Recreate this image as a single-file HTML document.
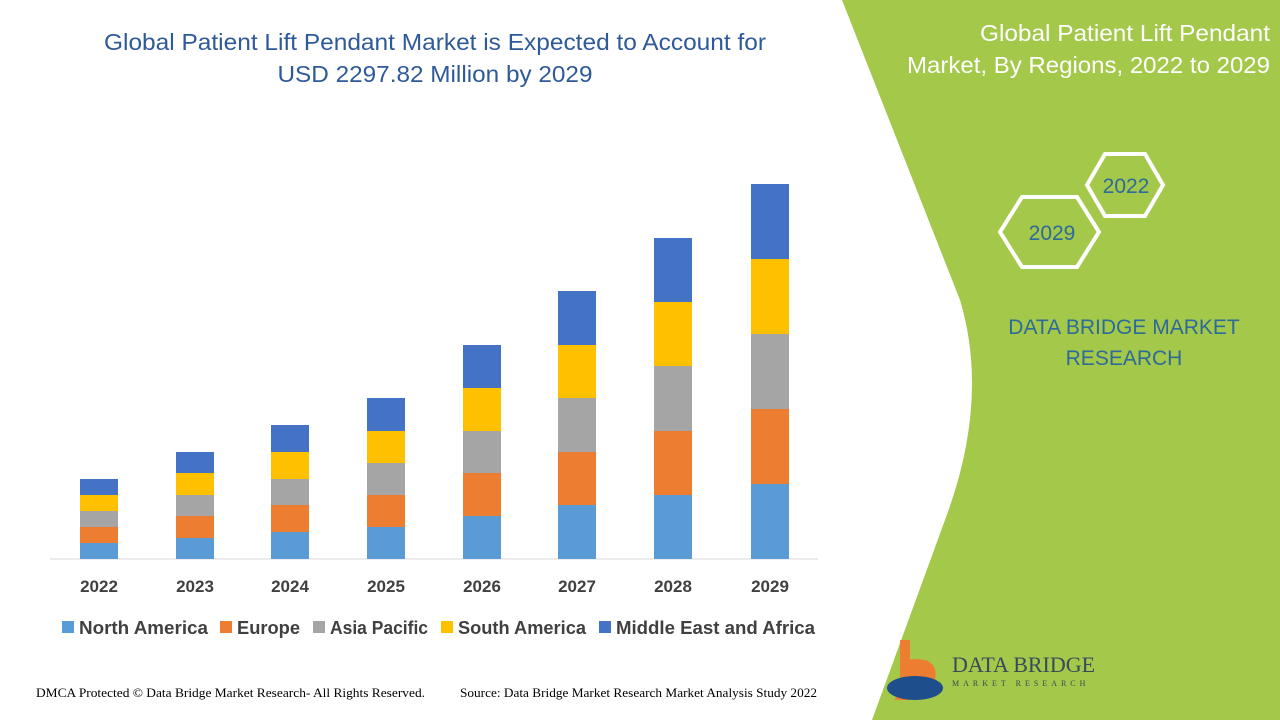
<!DOCTYPE html>
<html><head><meta charset="utf-8"><style>
body{margin:0;width:1280px;height:720px;overflow:hidden;background:#fff;font-family:"Liberation Sans",sans-serif;}
</style></head><body>
<svg width="1280" height="720" viewBox="0 0 1280 720" xmlns="http://www.w3.org/2000/svg" style="position:absolute;left:0;top:0">
<path d="M842,0 L1280,0 L1280,720 L872,720 L945,520 Q990,400 960,300 Z" fill="#a3c84a"/>
<g font-family="Liberation Sans, sans-serif" font-size="23.5" fill="#2e5a9a" text-anchor="middle">
<text x="435" y="50" textLength="662" lengthAdjust="spacingAndGlyphs">Global Patient Lift Pendant Market is Expected to Account for</text>
<text x="435" y="82" textLength="315" lengthAdjust="spacingAndGlyphs">USD 2297.82 Million by 2029</text>
</g>
<g font-family="Liberation Sans, sans-serif" font-size="23" fill="#fff" text-anchor="end">
<text x="1270" y="41" textLength="290" lengthAdjust="spacingAndGlyphs">Global Patient Lift Pendant</text>
<text x="1270" y="73" textLength="363" lengthAdjust="spacingAndGlyphs">Market, By Regions, 2022 to 2029</text>
</g>
<polygon points="1087,185 1105,154 1145,154 1163,185 1145,216 1105,216" fill="none" stroke="#fff" stroke-width="4"/>
<polygon points="1000,232 1022,197 1077,197 1099,232 1077,267 1022,267" fill="none" stroke="#fff" stroke-width="4"/>
<g font-family="Liberation Sans, sans-serif" fill="#2e6a9a" text-anchor="middle" font-size="21">
<text x="1126" y="193">2022</text>
<text x="1052" y="240">2029</text>
<text x="1124" y="334">DATA BRIDGE MARKET</text>
<text x="1124" y="365">RESEARCH</text>
</g>
<line x1="50" y1="559" x2="818" y2="559" stroke="#d9d9d9" stroke-width="1"/>
<g>
<rect x="80" y="543" width="38" height="16" fill="#5b9bd5"/><rect x="80" y="527" width="38" height="16" fill="#ed7d31"/><rect x="80" y="511" width="38" height="16" fill="#a5a5a5"/><rect x="80" y="495" width="38" height="16" fill="#ffc000"/><rect x="80" y="479" width="38" height="16" fill="#4472c4"/>
<rect x="176" y="538" width="38" height="21" fill="#5b9bd5"/><rect x="176" y="516" width="38" height="22" fill="#ed7d31"/><rect x="176" y="495" width="38" height="21" fill="#a5a5a5"/><rect x="176" y="473" width="38" height="22" fill="#ffc000"/><rect x="176" y="452" width="38" height="21" fill="#4472c4"/>
<rect x="271" y="532" width="38" height="27" fill="#5b9bd5"/><rect x="271" y="505" width="38" height="27" fill="#ed7d31"/><rect x="271" y="479" width="38" height="26" fill="#a5a5a5"/><rect x="271" y="452" width="38" height="27" fill="#ffc000"/><rect x="271" y="425" width="38" height="27" fill="#4472c4"/>
<rect x="367" y="527" width="38" height="32" fill="#5b9bd5"/><rect x="367" y="495" width="38" height="32" fill="#ed7d31"/><rect x="367" y="463" width="38" height="32" fill="#a5a5a5"/><rect x="367" y="431" width="38" height="32" fill="#ffc000"/><rect x="367" y="398" width="38" height="33" fill="#4472c4"/>
<rect x="463" y="516" width="38" height="43" fill="#5b9bd5"/><rect x="463" y="473" width="38" height="43" fill="#ed7d31"/><rect x="463" y="431" width="38" height="42" fill="#a5a5a5"/><rect x="463" y="388" width="38" height="43" fill="#ffc000"/><rect x="463" y="345" width="38" height="43" fill="#4472c4"/>
<rect x="558" y="505" width="38" height="54" fill="#5b9bd5"/><rect x="558" y="452" width="38" height="53" fill="#ed7d31"/><rect x="558" y="398" width="38" height="54" fill="#a5a5a5"/><rect x="558" y="345" width="38" height="53" fill="#ffc000"/><rect x="558" y="291" width="38" height="54" fill="#4472c4"/>
<rect x="654" y="495" width="38" height="64" fill="#5b9bd5"/><rect x="654" y="431" width="38" height="64" fill="#ed7d31"/><rect x="654" y="366" width="38" height="65" fill="#a5a5a5"/><rect x="654" y="302" width="38" height="64" fill="#ffc000"/><rect x="654" y="238" width="38" height="64" fill="#4472c4"/>
<rect x="751" y="484" width="38" height="75" fill="#5b9bd5"/><rect x="751" y="409" width="38" height="75" fill="#ed7d31"/><rect x="751" y="334" width="38" height="75" fill="#a5a5a5"/><rect x="751" y="259" width="38" height="75" fill="#ffc000"/><rect x="751" y="184" width="38" height="75" fill="#4472c4"/>
</g>
<g font-family="Liberation Sans, sans-serif" font-size="17" font-weight="bold" fill="#404040" text-anchor="middle">
<text x="99" y="592">2022</text><text x="195" y="592">2023</text><text x="290" y="592">2024</text><text x="386" y="592">2025</text><text x="482" y="592">2026</text><text x="577" y="592">2027</text><text x="673" y="592">2028</text><text x="770" y="592">2029</text>
</g>
<g font-family="Liberation Sans, sans-serif" font-size="18" font-weight="bold" fill="#404040">
<rect x="62" y="621" width="12" height="12" fill="#5b9bd5"/><text x="79" y="634" textLength="129" lengthAdjust="spacingAndGlyphs">North America</text>
<rect x="220" y="621" width="12" height="12" fill="#ed7d31"/><text x="237" y="634" textLength="63" lengthAdjust="spacingAndGlyphs">Europe</text>
<rect x="313" y="621" width="12" height="12" fill="#a5a5a5"/><text x="330" y="634" textLength="98" lengthAdjust="spacingAndGlyphs">Asia Pacific</text>
<rect x="441" y="621" width="12" height="12" fill="#ffc000"/><text x="458" y="634" textLength="128" lengthAdjust="spacingAndGlyphs">South America</text>
<rect x="599" y="621" width="12" height="12" fill="#4472c4"/><text x="616" y="634" textLength="199" lengthAdjust="spacingAndGlyphs">Middle East and Africa</text>
</g>
<g font-family="Liberation Serif, serif" font-size="13" fill="#000">
<text x="36" y="697" textLength="389" lengthAdjust="spacingAndGlyphs">DMCA Protected © Data Bridge Market Research- All Rights Reserved.</text>
<text x="460" y="697" textLength="357" lengthAdjust="spacingAndGlyphs">Source: Data Bridge Market Research Market Analysis Study 2022</text>
</g>
<path d="M900,640 L910,640 L910,700 L900,700 Z" fill="#ed7d31"/>
<path d="M905,660 Q940,655 935,680 Q925,700 895,700 Z" fill="#ed7d31"/>
<ellipse cx="915" cy="688" rx="28" ry="12" fill="#1f4e8c"/>
<g font-family="Liberation Serif, serif" fill="#3a4a5a">
<text x="952" y="672" font-size="22">DATA BRIDGE</text>
<text x="952" y="686" font-size="8" letter-spacing="4">MARKET RESEARCH</text>
</g>
</svg>
</body></html>
